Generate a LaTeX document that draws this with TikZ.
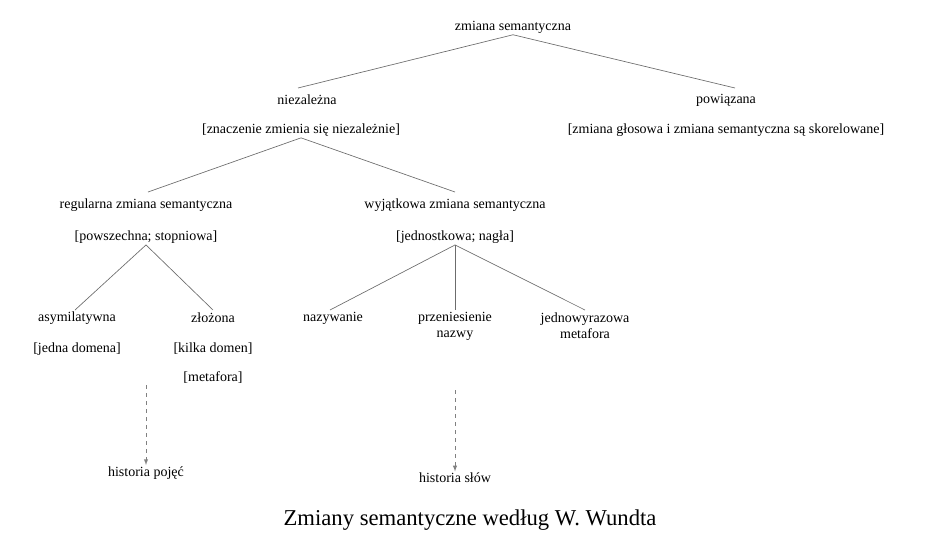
\documentclass[tikz,border=0pt]{standalone}
\usepackage{fontspec}
\setmainfont{Liberation Serif}
\usetikzlibrary{arrows}
\begin{document}
\begin{tikzpicture}[x=0.75pt,y=-0.75pt,
    every node/.style={font=\fontsize{10.5}{12}\selectfont, inner sep=1pt},
    edge/.style={draw=gray!85!black, line width=0.5pt},
    dashedge/.style={draw=gray, dashed, line width=0.5pt, -latex}]

    \useasboundingbox (0,0) rectangle (939,554);

    \node (top) at (513,27) {zmiana semantyczna};
    \node (niez) at (307,100) {niezależna};
    \node (niezB) at (301,130) {[znaczenie zmienia się niezależnie]};
    \node (pow) at (726,100) {powiązana};
    \node (powB) at (726,130) {[zmiana głosowa i zmiana semantyczna są skorelowane]};
    \node (reg) at (146,205) {regularna zmiana semantyczna};
    \node (regB) at (146,237) {[powszechna; stopniowa]};
    \node (wyj) at (455,205) {wyjątkowa zmiana semantyczna};
    \node (wyjB) at (455,237) {[jednostkowa; nagła]};
    \node (asym) at (77,318) {asymilatywna};
    \node (asymB) at (77,349) {[jedna domena]};
    \node (zloz) at (213,318) {złożona};
    \node (zlozB) at (213,349) {[kilka domen]};
    \node (zlozC) at (213,378) {[metafora]};
    \node (naz) at (333,318) {nazywanie};
    \node[align=center] (prz) at (455,326) {przeniesienie\\nazwy};
    \node[align=center] (jedn) at (585,326) {jednowyrazowa\\metafora};
    \node (histP) at (146,473) {historia pojęć};
    \node (histS) at (455,478) {historia słów};
    \node[font=\fontsize{17}{20}\selectfont] (caption) at (470,520) {Zmiany semantyczne według W. Wundta};

    \coordinate (asymEnd) at (146,385);
    \coordinate (przEnd) at (455,390);

    \draw[edge] (top.south) -- (298,88);
    \draw[edge] (top.south) -- (735,88);
    \draw[edge] (niezB.south) -- (148,192);
    \draw[edge] (niezB.south) -- (455,192);
    \draw[edge] (regB.south) -- (75,310);
    \draw[edge] (regB.south) -- (213,310);
    \draw[edge] (wyjB.south) -- (330,310);
    \draw[edge] (wyjB.south) -- (455,310);
    \draw[edge] (wyjB.south) -- (585,310);
    \draw[dashedge] (asymEnd) -- (histP.north);
    \draw[dashedge] (przEnd) -- (histS.north);
\end{tikzpicture}
\end{document}
